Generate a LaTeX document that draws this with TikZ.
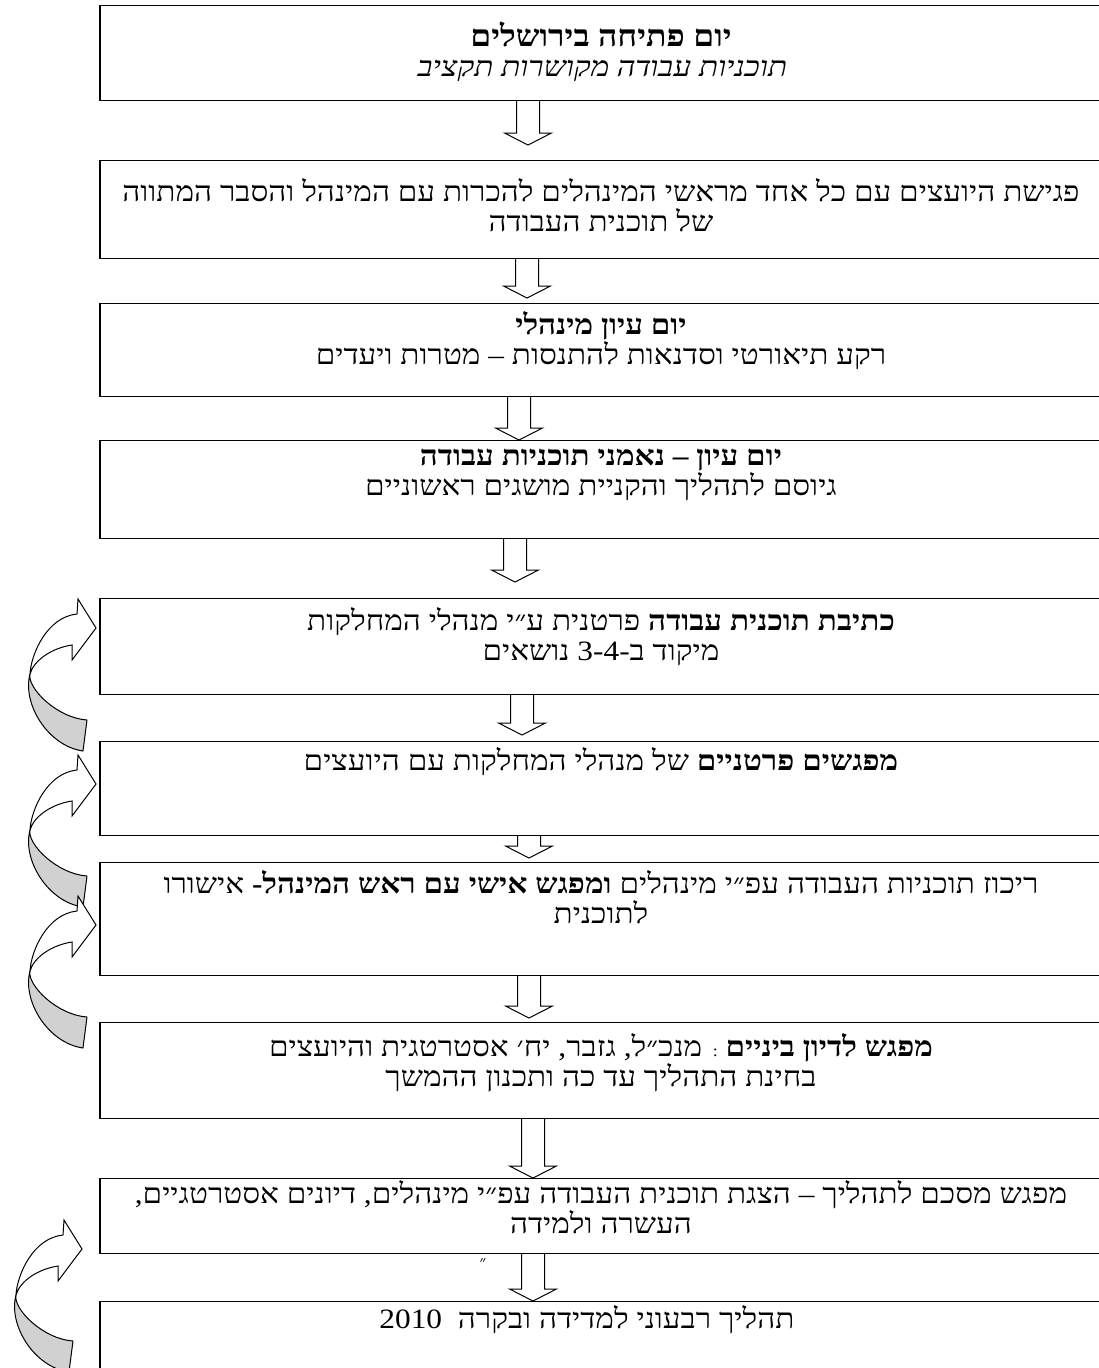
\documentclass[tikz,border=0pt]{standalone}
\usepackage{fontspec}
\newfontfamily\hebfont[Script=Hebrew,FakeStretch=1.12]{Liberation Serif}
\newfontfamily\hebslant[Script=Hebrew,FakeStretch=1.12,FakeSlant=0.2]{Liberation Serif}
\TeXXeTstate=1
\newcommand{\hebline}[1]{\beginR #1\endR}
\newcommand{\hebtitle}[1]{{\fontsize{30}{30}\selectfont\bfseries\beginR #1\endR}}
\usetikzlibrary{
		calc,
		positioning
	}
\tikzset{
		>=stealth,
		stepbox/.style={draw, line width=1.2pt, minimum width=1002pt, anchor=north, inner sep=0pt},
		steptext/.style={align=center, inner sep=0pt, font=\hebfont\fontsize{28}{30}\selectfont},
		block arrow/.style={draw, line width=1pt, line join=miter,
			to path={let \p1=(\tikztostart), \p2=(\tikztotarget) in
				(\x1-11.5,\y1) -- (\x1-11.5,\y2+12) -- (\x1-23.5,\y2+12) -- (\x1,\y2)
				-- (\x1+23.5,\y2+12) -- (\x1+11.5,\y2+12) -- (\x1+11.5,\y1)}},
		pics/loop arrow/.style={code={
			\filldraw[fill=black!18, line width=1pt, line join=round]
				(-66,-46) .. controls (-74,-76) and (-48,-118) .. (-13,-123)
				-- (-9,-92) .. controls (-39,-90) and (-69,-60) .. (-66,-46) -- cycle;
			\filldraw[fill=white, line width=1pt, line join=miter]
				(0,0) -- (-18,29) -- (-19,14)
				.. controls (-49,11) and (-65,-26) .. (-66,-46)
				.. controls (-62,-32) and (-44,-20) .. (-24,-17)
				-- (-24,-32) -- cycle;
		}}
	}

\begin{document}
\begin{tikzpicture}[x=1pt, y=1pt]
		\clip (0,0) rectangle (1099,-1368);

		% steps
		\node [stepbox, minimum height=95pt] (b1) at (601,-5) {};
		\node [stepbox, minimum height=98pt] (b2) at (601,-160) {};
		\node [stepbox, minimum height=93pt] (b3) at (601,-303) {};
		\node [stepbox, minimum height=98pt] (b4) at (601,-440) {};
		\node [stepbox, minimum height=96pt] (b5) at (601,-598) {};
		\node [stepbox, minimum height=94pt] (b6) at (601,-741) {};
		\node [stepbox, minimum height=113pt] (b7) at (601,-862) {};
		\node [stepbox, minimum height=96pt] (b8) at (601,-1022) {};
		\node [stepbox, minimum height=75pt] (b9) at (601,-1178) {};
		\node [stepbox, minimum height=100pt] (b10) at (601,-1301) {};

		\node [steptext] (t1) [below=17pt of b1.north]
			{\hebtitle{יום פתיחה בירושלים}\\{\hebslant\hebline{תוכניות עבודה מקושרות תקציב}}};
		\node [steptext] (t2) [below=18pt of b2.north]
			{\hebline{פגישת היועצים עם כל אחד מראשי המינהלים להכרות עם המינהל והסבר המתווה}\\\hebline{של תוכנית העבודה}};
		\node [steptext] (t3) [below=8pt of b3.north]
			{{\bfseries\hebline{יום עיון מינהלי}}\\\hebline{רקע תיאורטי וסדנאות להתנסות – מטרות ויעדים}};
		\node [steptext] (t4) [below=9pt of b4.north]
			{{\bfseries\hebline{יום עיון – נאמני תוכניות עבודה}}\\\hebline{גיוסם לתהליך והקניית מושגים ראשוניים}};
		\node [steptext] (t5) [below=9pt of b5.north]
			{\hebline{{\bfseries כתיבת תוכנית עבודה} פרטנית ע״י מנהלי המחלקות}\\\hebline{מיקוד ב-\beginL 3-4\endL{} נושאים}};
		\node [steptext] (t6) [below=6pt of b6.north]
			{\hebline{{\bfseries מפגשים פרטניים} של מנהלי המחלקות עם היועצים}};
		\node [steptext] (t7) [below=8pt of b7.north]
			{\hebline{ריכוז תוכניות העבודה עפ״י מינהלים {\bfseries ומפגש אישי עם ראש המינהל-} אישורו}\\\hebline{לתוכנית}};
		\node [steptext] (t8) [below=11pt of b8.north]
			{\hebline{{\bfseries מפגש לדיון ביניים} {\fontsize{16}{16}\selectfont :} מנכ״ל, גזבר, יח׳ אסטרטגית והיועצים}\\\hebline{בחינת התהליך עד כה ותכנון ההמשך}};
		\node [steptext] (t9) [below=2pt of b9.north]
			{\hebline{מפגש מסכם לתהליך – הצגת תוכנית העבודה עפ״י מינהלים, דיונים אסטרטגיים,}\\\hebline{העשרה ולמידה}};
		\node [steptext] (t10) [below=4pt of b10.north, xshift=-14pt]
			{\hebline{תהליך רבעוני למדידה ובקרה\ \ \beginL 2010\endL}};
		\node [font=\hebfont\fontsize{16}{16}\selectfont, inner sep=0pt] (mk) at (483,-1263) {״};

		% flow
		\draw [block arrow] ([xshift=-73pt]b1.south) to ([xshift=-73pt, yshift=15pt]b2.north);
		\draw [block arrow] ([xshift=-74pt]b2.south) to ([xshift=-74pt, yshift=5pt]b3.north);
		\draw [block arrow] ([xshift=-82pt]b3.south) to ([xshift=-82pt]b4.north);
		\draw [block arrow] ([xshift=-86pt]b4.south) to ([xshift=-86pt, yshift=16pt]b5.north);
		\draw [block arrow] ([xshift=-79pt]b5.south) to ([xshift=-79pt, yshift=6pt]b6.north);
		\draw [block arrow] ([xshift=-72pt]b6.south) to ([xshift=-72pt, yshift=4pt]b7.north);
		\draw [block arrow] ([xshift=-72pt]b7.south) to ([xshift=-72pt, yshift=4pt]b8.north);
		\draw [block arrow] ([xshift=-68pt]b8.south) to ([xshift=-68pt]b9.north);
		\draw [block arrow] ([xshift=-68pt]b9.south) to ([xshift=-68pt]b10.north);

		% feedback loops
		\pic (l1) at (96,-628) {loop arrow};
		\pic (l2) at (96,-784) {loop arrow};
		\pic (l3) at (96,-925) {loop arrow};
		\pic (l4) at (82,-1249) {loop arrow};
\end{tikzpicture}
\end{document}
